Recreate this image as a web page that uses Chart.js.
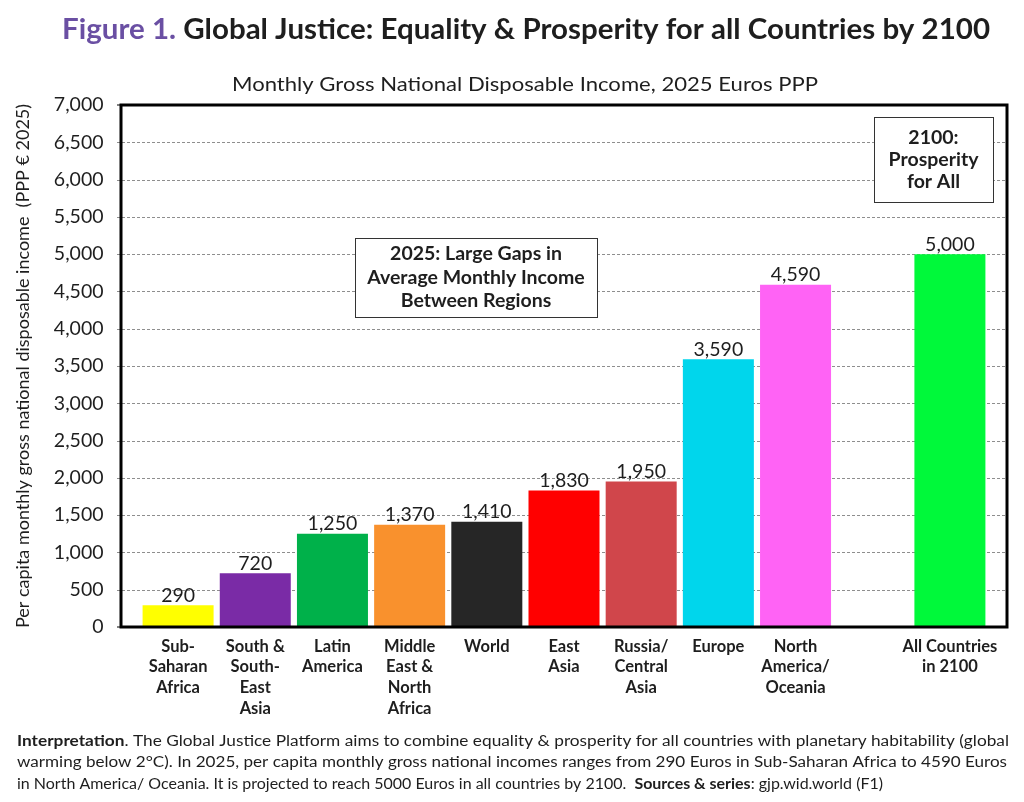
<!DOCTYPE html>
<html>
<head>
<meta charset="utf-8">
<title>Figure 1. Global Justice</title>
<script src="https://cdn.jsdelivr.net/npm/chart.js@4/dist/chart.umd.min.js"></script>
<style>
  html, body { margin: 0; padding: 0; background: #fff; }
  canvas { display: block; }
</style>
</head>
<body>
<canvas id="chart" width="1024" height="802"></canvas>
<script>
// regions (multi-line tick labels), one empty slot before the 2100 bar
const regions = [
    ['Sub-', 'Saharan', 'Africa'],
    ['South &', 'South-', 'East', 'Asia'],
    ['Latin', 'America'],
    ['Middle', 'East &', 'North', 'Africa'],
    ['World'],
    ['East', 'Asia'],
    ['Russia/', 'Central', 'Asia'],
    ['Europe'],
    ['North', 'America/', 'Oceania'],
    [''],
    ['All Countries', 'in 2100']
];
const incomes = [290, 720, 1250, 1370, 1410, 1830, 1950, 3590, 4590, null, 5000];
const barColors = ['#FFFF00', '#7A2BA6', '#00B14A', '#F9912D', '#262626', '#FF0000',
                   '#D0464B', '#00D6EC', '#FF63F5', '#ffffff', '#00F93A'];

const yMax = 7000;
const yStep = 500;

const titleMain = 'Global Justice: Equality & Prosperity for all Countries by 2100';
const subtitle = 'Monthly Gross National Disposable Income, 2025 Euros PPP';
const yTitle = 'Per capita monthly gross national disposable income  (PPP \u20ac 2025)';
const box2025 = ['2025: Large Gaps in', 'Average Monthly Income', 'Between Regions'];
const box2100 = ['2100:', 'Prosperity', 'for All'];
const footnote = [
    [['Interpretation', true], ['. The Global Justice Platform aims to combine equality & prosperity for all countries with planetary habitability (global', false]],
    [['warming below 2\u00b0C). In 2025, per capita monthly gross national incomes ranges from 290 Euros in Sub-Saharan Africa to 4590 Euros', false]],
    [['in North America/ Oceania. It is projected to reach 5000 Euros in all countries by 2100.  ', false], ['Sources & series', true], [': gjp.wid.world (F1)', false]]
];
const footnoteWidths = [992, 990, 866];

const FONT = 'Lato, "Open Sans", sans-serif';
const INK = '#1e1e1e';
const fmt = v => v.toLocaleString('en-US');

function richWidth(ctx, parts, size) {
    let total = 0;
    parts.forEach(([t, b]) => {
        ctx.font = `${b ? 'bold ' : ''}${size}px ${FONT}`;
        total += ctx.measureText(t).width;
    });
    return total;
}

// draws a line made of [text, bold] pieces, squeezed horizontally to a width
function drawRich(ctx, parts, x, y, size, opts = {}) {
    const total = richWidth(ctx, parts, size);
    const sx = opts.width ? opts.width / total : 1;
    ctx.save();
    ctx.textBaseline = 'middle';
    ctx.textAlign = 'left';
    const start = opts.center ? x - total * sx / 2 : x;
    ctx.translate(start, y);
    ctx.scale(sx, 1);
    let cx = 0;
    parts.forEach(([t, b, color]) => {
        ctx.font = `${b ? 'bold ' : ''}${size}px ${FONT}`;
        ctx.fillStyle = color || INK;
        ctx.fillText(t, cx, 0);
        cx += ctx.measureText(t).width;
    });
    ctx.restore();
}

function drawBox(ctx, lines, left, top, w, h, lineGap) {
    ctx.save();
    ctx.fillStyle = '#fff';
    ctx.fillRect(left, top, w, h);
    ctx.strokeStyle = '#333';
    ctx.lineWidth = 1;
    ctx.strokeRect(left + 0.5, top + 0.5, w, h);
    ctx.font = `bold 19.5px ${FONT}`;
    ctx.fillStyle = INK;
    ctx.textAlign = 'center';
    ctx.textBaseline = 'middle';
    const y0 = top + h / 2 - (lines.length - 1) * lineGap / 2;
    lines.forEach((l, i) => ctx.fillText(l, left + w / 2, y0 + i * lineGap));
    ctx.restore();
}

const frameInset = 18.5;

const decorations = {
    id: 'decorations',
    beforeDatasetsDraw(chart) {
        const { ctx, chartArea: a, scales: { y } } = chart;
        ctx.save();
        ctx.strokeStyle = '#8e8e8e';
        ctx.lineWidth = 1;
        ctx.setLineDash([3, 2]);
        y.ticks.forEach(t => {
            if (t.value === 0 || t.value === yMax) return;
            const py = Math.round(y.getPixelForValue(t.value)) + 0.5;
            ctx.beginPath();
            ctx.moveTo(a.left - frameInset - 4, py);
            ctx.lineTo(a.right + frameInset, py);
            ctx.stroke();
        });
        ctx.restore();
    },
    afterDatasetsDraw(chart) {
        const { ctx, chartArea: a, scales: { y } } = chart;
        // frame
        ctx.save();
        ctx.strokeStyle = '#000';
        ctx.lineWidth = 3;
        const top = y.getPixelForValue(yMax), bot = y.getPixelForValue(0);
        ctx.strokeRect(a.left - frameInset, top, a.right - a.left + 2 * frameInset, bot - top);
        ctx.lineWidth = 1;
        ctx.beginPath();
        ctx.moveTo(a.left - frameInset - 4, top);
        ctx.lineTo(a.left - frameInset, top);
        ctx.moveTo(a.left - frameInset - 4, bot);
        ctx.lineTo(a.left - frameInset, bot);
        ctx.stroke();
        ctx.restore();

        // value labels above bars
        const meta = chart.getDatasetMeta(0);
        ctx.save();
        ctx.font = `19.5px ${FONT}`;
        ctx.fillStyle = INK;
        ctx.textAlign = 'center';
        ctx.textBaseline = 'bottom';
        meta.data.forEach((bar, i) => {
            if (incomes[i] == null) return;
            ctx.fillText(fmt(incomes[i]), bar.x, bar.y);
        });
        ctx.restore();
    },
    afterDraw(chart) {
        const { ctx } = chart;
        drawRich(ctx, [['Figure 1. ', true, '#6A4FA3'], [titleMain, true]], 526, 30, 28, { center: true, width: 928 });
        drawRich(ctx, [[subtitle, false]], 525, 85, 19, { center: true, width: 586 });

        drawBox(ctx, box2025, 355, 238, 242, 79, 23.5);
        drawBox(ctx, box2100, 874, 117, 119, 85, 22);

        const rows = [741, 762, 784];
        footnote.forEach((parts, i) => {
            drawRich(ctx, parts, 17, rows[i], 15.5, { width: footnoteWidths[i] });
        });
    }
};

new Chart(document.getElementById('chart'), {
    type: 'bar',
    data: {
        labels: regions,
        datasets: [{
            data: incomes,
            backgroundColor: barColors,
            borderWidth: 0,
            categoryPercentage: 1,
            barPercentage: 0.92
        }]
    },
    options: {
        responsive: false,
        devicePixelRatio: 1,
        animation: false,
        layout: { padding: { top: 105, right: 35.5, bottom: 75, left: 0 } },
        plugins: {
            legend: { display: false },
            tooltip: { enabled: false }
        },
        scales: {
            x: {
                offset: true,
                grid: { display: false, drawTicks: false },
                border: { display: false },
                ticks: {
                    color: INK,
                    font: { family: FONT, size: 16.5, weight: 'bold', lineHeight: 1.25 },
                    padding: 9,
                    maxRotation: 0,
                    autoSkip: false
                },
                afterFit(axis) { axis.height = 100; }
            },
            y: {
                min: 0,
                max: yMax,
                grid: { display: false, drawTicks: false },
                border: { display: false },
                ticks: {
                    stepSize: yStep,
                    color: INK,
                    font: { family: FONT, size: 19.5 },
                    padding: 36,
                    callback: v => fmt(v)
                },
                title: {
                    display: true,
                    text: yTitle,
                    color: INK,
                    font: { family: FONT, size: 18 },
                    padding: { top: 12, bottom: 0 }
                },
                afterFit(axis) { axis.width = 139.5; }
            }
        }
    },
    plugins: [decorations]
});
</script>
</body>
</html>
